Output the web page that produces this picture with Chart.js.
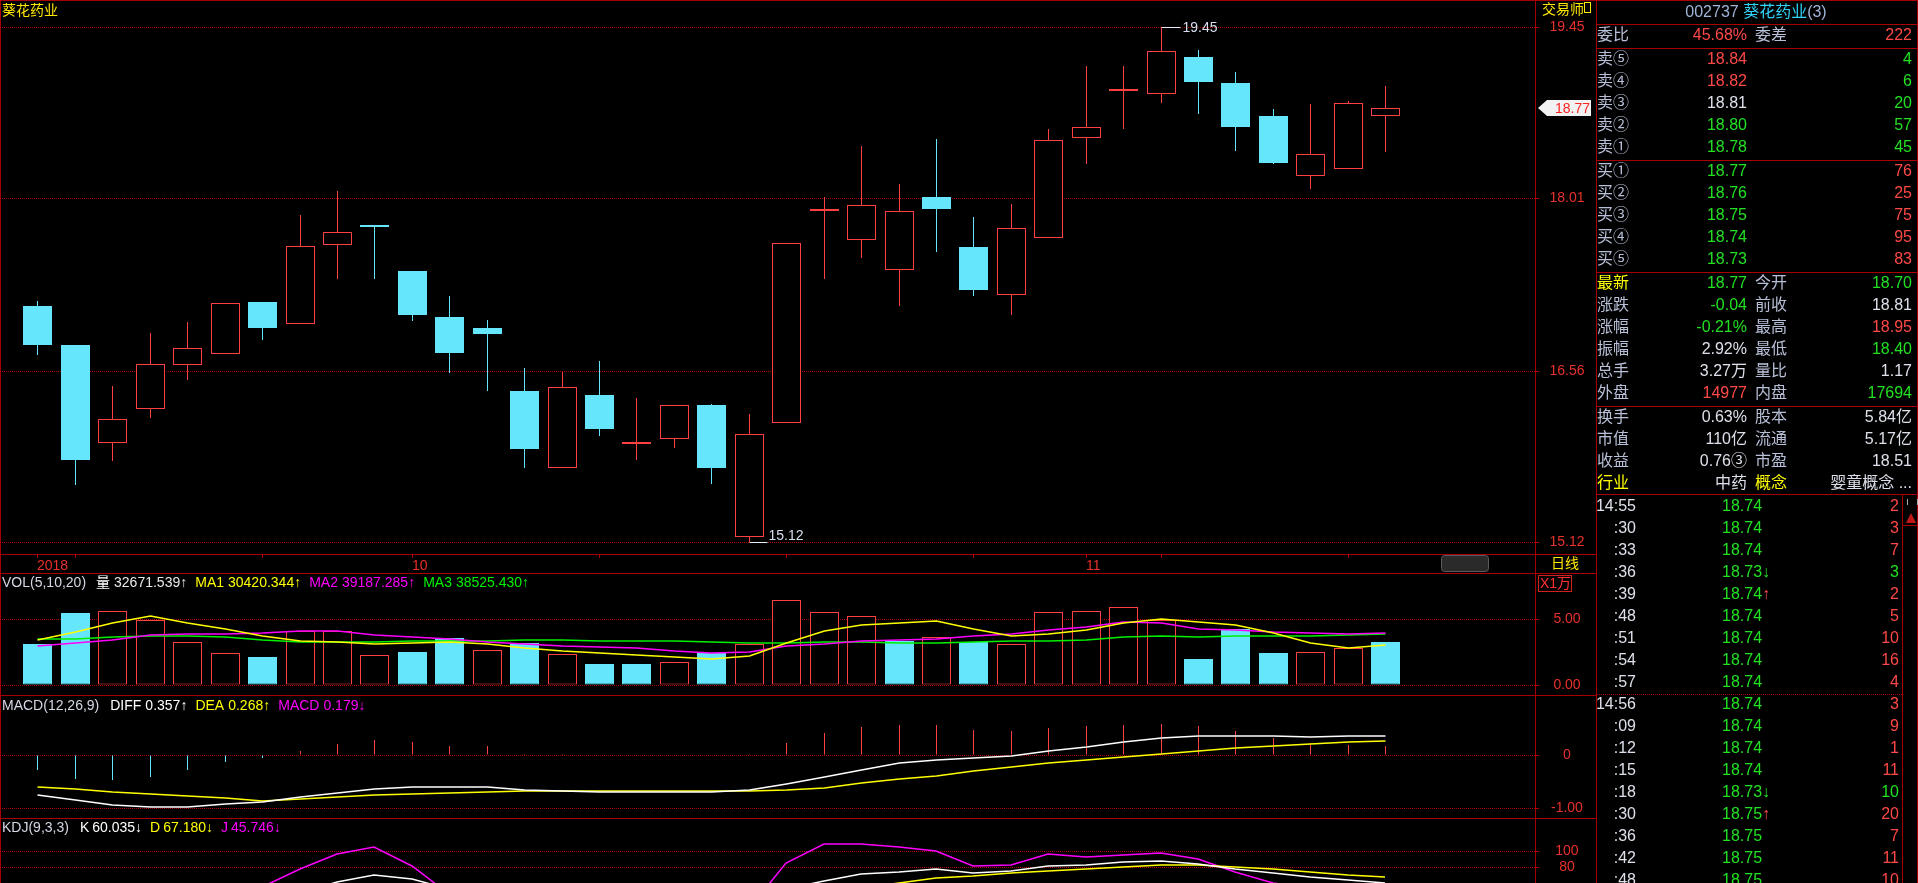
<!DOCTYPE html>
<html lang="zh-CN">
<head>
<meta charset="utf-8">
<title>葵花药业 002737 日线</title>
<script src="https://cdn.jsdelivr.net/npm/chart.js@4.4.1/dist/chart.umd.min.js"></script>
<style>
  html, body { margin: 0; padding: 0; background: #000; }
  body { width: 1918px; height: 883px; position: relative; overflow: hidden;
         font-family: "Liberation Sans", Arial, "Noto Sans CJK SC", sans-serif; }
  canvas { position: absolute; left: 0; }
  #info { position: absolute; left: 1596px; top: 0; width: 322px; height: 883px; box-sizing: border-box;
          border-left: 1px solid #a80000; border-right: 1px solid #a80000; font-size: 16px; }
  #info span.c { position: absolute; height: 22px; line-height: 22px; white-space: nowrap; }
  #info .hl { position: absolute; left: 0; right: 0; height: 1px; background: #a80000; }
  #info .dl { position: absolute; left: 0; width: 305px; height: 0; border-top: 1px dotted #a80000; }
</style>
</head>
<body>
<canvas id="price" width="1596" height="573" style="top:0"></canvas>
<canvas id="vol" width="1596" height="122" style="top:573px"></canvas>
<canvas id="macd" width="1596" height="123" style="top:695px"></canvas>
<canvas id="kdj" width="1596" height="65" style="top:818px"></canvas>
<div id="info"></div>
<script>
// ---- daily candles (37 sessions) ----
const opens  = [17.10,16.78,15.95,16.24,16.61,16.70,17.14,16.95,17.62,17.78,17.40,17.01,16.92,16.39,15.74,16.36,15.94,15.99,16.27,15.16,16.12,17.90,17.66,17.41,18.02,17.60,17.20,17.68,18.52,18.91,18.89,19.20,18.98,18.70,18.20,18.26,18.70];
const highs  = [17.15,16.78,16.43,16.88,16.97,17.13,17.14,17.87,18.07,17.78,17.40,17.19,16.99,16.58,16.55,16.64,16.33,16.27,16.28,16.20,17.63,18.02,18.45,18.13,18.51,17.85,17.96,18.59,19.12,19.12,19.45,19.26,19.07,18.76,18.80,18.83,18.95];
const lows   = [16.69,15.60,15.80,16.16,16.48,16.70,16.82,16.95,17.33,17.33,16.98,16.54,16.39,15.74,15.74,16.01,15.81,15.91,15.61,15.12,16.12,17.33,17.51,17.10,17.56,17.19,17.03,17.68,18.30,18.59,18.81,18.72,18.41,18.30,18.09,18.26,18.40];
const closes = [16.78,15.81,16.15,16.62,16.75,17.13,16.92,17.61,17.73,17.77,17.03,16.71,16.87,15.90,16.42,16.07,15.95,16.27,15.74,16.03,17.63,17.91,17.95,17.90,17.92,17.24,17.76,18.50,18.61,18.93,19.25,18.99,18.61,18.31,18.38,18.81,18.77];
const priorClose = 17.05; // close of the session before the first one shown

// ---- volume (x1万) and its averages ----
const volumes = [3.12,5.48,5.61,4.92,3.25,2.41,2.13,4.09,4.11,2.26,2.51,3.55,2.64,3.22,2.33,1.60,1.60,1.75,2.41,3.12,6.45,5.53,5.23,3.30,3.63,3.25,3.10,5.53,5.61,5.91,4.95,1.98,4.26,2.44,2.49,2.79,3.27];
const volMA5  = [3.43,3.98,4.70,5.20,4.70,4.24,3.68,3.30,3.25,3.10,3.17,3.25,3.10,2.84,2.59,2.46,2.28,2.11,1.95,2.16,3.17,4.06,4.57,4.72,4.82,4.24,3.73,3.86,4.19,4.67,4.97,4.75,4.54,3.93,3.22,2.84,3.04];
const volMA10 = [2.92,3.17,3.43,3.76,3.86,3.86,3.93,4.06,4.06,3.76,3.60,3.50,3.25,3.10,2.99,2.87,2.79,2.61,2.46,2.51,2.92,3.12,3.30,3.38,3.50,3.68,3.86,4.19,4.39,4.75,4.70,4.26,4.14,4.01,3.93,3.86,3.92];
const volMA20 = [3.50,3.50,3.63,3.71,3.68,3.60,3.43,3.25,3.25,3.25,3.30,3.35,3.35,3.43,3.43,3.35,3.30,3.30,3.25,3.17,3.22,3.25,3.25,3.17,3.17,3.25,3.30,3.35,3.43,3.60,3.71,3.63,3.71,3.71,3.71,3.81,3.85];
const volHeader = [32671.539, 30420.344, 39187.285, 38525.430];

// ---- MACD(12,26,9) ----
const diff = [-0.76,-0.84,-0.94,-0.98,-0.975,-0.925,-0.88,-0.79,-0.72,-0.64,-0.61,-0.61,-0.61,-0.66,-0.675,-0.69,-0.69,-0.69,-0.69,-0.66,-0.54,-0.42,-0.28,-0.15,-0.09,-0.06,-0.01,0.07,0.16,0.24,0.33,0.36,0.36,0.35,0.34,0.35,0.357];
const dea  = [-0.61,-0.64,-0.69,-0.74,-0.78,-0.81,-0.86,-0.83,-0.79,-0.76,-0.73,-0.72,-0.69,-0.675,-0.675,-0.675,-0.675,-0.675,-0.675,-0.675,-0.66,-0.63,-0.53,-0.46,-0.39,-0.31,-0.23,-0.16,-0.10,-0.04,0.01,0.08,0.13,0.175,0.21,0.24,0.268];
const macdBar = [-0.29,-0.46,-0.48,-0.41,-0.29,-0.14,-0.06,0.075,0.21,0.28,0.24,0.17,0.17,0.02,0.02,0.005,0.003,0.003,0.003,0.01,0.225,0.41,0.525,0.56,0.56,0.47,0.45,0.51,0.54,0.56,0.59,0.54,0.45,0.32,0.23,0.19,0.179];

// ---- KDJ(9,3,3) ----
const kLine = [35,30,28,30,32,36,40,47,61,70.6,65,53,48,35,30,30,28,30,27,38,53,63,71.5,74,77,72,75,81,82.5,86,87,84,78,72,67,63.4,60.035];
const dLine = [38,35,32,31,32,34,36,38,44,53,57,56,52,46,40,36,33,31,30,33,38,46,54,60,66,68.5,72,75,78,80,82.5,82,80,78,73.6,70.6,67.18];
const jLine = [25,18,18,26,32,42,55,77,96,105,81,46,34,10,6,14,14,24,19,27,84.7,109,109,104.7,99.6,81,82,96.6,93,95,97.4,90,74,60,54,49,45.746];

// ---- axis ticks ----
const priceTicks = [19.45, 18.01, 16.56, 15.12];
const volTicks = [5, 0];
const macdTicks = [0, -1];
const kdjTicks = [100, 80];
const dateTickIdx  = [0, 1, 6, 10, 15, 20, 25, 28, 30, 35];
const dateTickText = ['2018', '', '', '10', '', '', '', '11', '', ''];

// ---- quote panel ----
const prevClose = 18.81;
const sellPrices = [18.84, 18.82, 18.81, 18.80, 18.78];
const sellVols = [4, 6, 20, 57, 45];
const buyPrices = [18.77, 18.76, 18.75, 18.74, 18.73];
const buyVols = [76, 25, 75, 95, 83];
const quoteLabels = [['最新','今开'],['涨跌','前收'],['涨幅','最高'],['振幅','最低'],['总手','量比'],['外盘','内盘']];
const quoteValues = [['18.77','18.70'],['-0.04','18.81'],['-0.21%','18.95'],['2.92%','18.40'],['3.27万','1.17'],['14977','17694']];
const quoteTone   = [['g','g'],['g','w'],['g','r'],['w','g'],['w','w'],['r','g']];
const baseLabels = [['换手','股本'],['市值','流通'],['收益','市盈'],['行业','概念']];
const baseValues = [['0.63%','5.84亿'],['110亿','5.17亿'],['0.76③','18.51'],['中药','婴童概念 ...']];
const tickTimes  = ['14:55',':30',':33',':36',':39',':48',':51',':54',':57','14:56',':09',':12',':15',':18',':30',':36',':42',':48'];
const tickPrices = [18.74,18.74,18.74,18.73,18.74,18.74,18.74,18.74,18.74,18.74,18.74,18.74,18.74,18.73,18.75,18.75,18.75,18.75];
const tickVols   = [2,3,7,3,2,5,10,16,4,3,9,1,11,10,20,7,11,10];
const tickSides  = ['B','B','B','S','B','B','B','B','B','B','B','B','B','S','B','B','B','B'];

const FONT = '"Liberation Sans", Arial, "Noto Sans CJK SC", sans-serif';
const RED = '#ff4040', CYAN = '#66e6fc', FRAME = '#a80000', AXIS_TXT = '#e8302c';
const YEL = '#ffff00', MAG = '#ff00ff', GRN = '#00f000', WHT = '#ffffff', HDR = '#d4d8e4';
const X_MIN = -1, X_MAX = 40, AXIS_W = 61;

Chart.defaults.font.family = FONT;
Chart.defaults.font.size = 14;

const pts = arr => arr.map((v, i) => ({ x: i, y: v }));
const upCandle = i => closes[i] >= opens[i];
const volUp = i => closes[i] >= (i > 0 ? closes[i - 1] : priorClose);

function hiddenX() {
  return { type: 'linear', min: X_MIN, max: X_MAX, offset: false, alignToPixels: true,
           grid: { offset: false }, display: false };
}

function yAxis(min, max, ticks, fmt, pad) {
  return {
    type: 'linear', position: 'right', min: min, max: max, alignToPixels: true,
    afterFit: s => { s.width = AXIS_W; s.paddingTop = 0; s.paddingBottom = 0; },
    afterBuildTicks: s => { s.ticks = ticks.map(v => ({ value: v })); },
    grid: { color: FRAME, lineWidth: 1, tickLength: 4, tickColor: FRAME },
    border: { display: false, dash: [1, 1] },
    ticks: { color: AXIS_TXT, font: { size: 14 }, crossAlign: 'center', padding: pad, callback: fmt }
  };
}

function baseOptions(scales) {
  return {
    responsive: false, animation: false, devicePixelRatio: 1, events: [],
    layout: { padding: 0 },
    plugins: { legend: { display: false }, tooltip: { enabled: false } },
    scales: scales
  };
}

// bars sit on whole pixels: shift half a pixel so 1px wicks and odd-width bodies stay crisp
const crisp = {
  id: 'crisp',
  beforeDatasetsDraw(chart) { chart.ctx.save(); chart.ctx.translate(0.5, 0); },
  afterDatasetsDraw(chart) { chart.ctx.restore(); }
};

// edges shared by every panel
const framePlugin = {
  id: 'frame',
  afterDraw(chart) {
    const { ctx, width, height, chartArea } = chart;
    ctx.save();
    ctx.strokeStyle = FRAME; ctx.lineWidth = 1;
    ctx.beginPath();
    ctx.moveTo(0, 0.5); ctx.lineTo(width, 0.5);
    ctx.moveTo(0.5, 0); ctx.lineTo(0.5, height);
    ctx.moveTo(chartArea.right + 0.5, 0); ctx.lineTo(chartArea.right + 0.5, height);
    ctx.stroke();
    ctx.restore();
  }
};

function headerPlugin(y, segments) {
  return {
    id: 'header',
    afterDraw(chart) {
      const ctx = chart.ctx;
      ctx.save();
      ctx.font = '14px ' + FONT;
      ctx.textBaseline = 'middle';
      ctx.textAlign = 'left';
      let x = 2;
      segments.forEach(s => {
        x += s.gap || 0;
        ctx.fillStyle = s.color;
        ctx.fillText(s.text, x, y);
        x += ctx.measureText(s.text).width;
      });
      ctx.restore();
    }
  };
}

const priceExtras = {
  id: 'priceExtras',
  afterDraw(chart) {
    const { ctx, chartArea: a, scales } = chart;
    const xs = scales.x, ys = scales.y;
    ctx.save();
    ctx.strokeStyle = FRAME; ctx.lineWidth = 1;
    ctx.beginPath();
    ctx.moveTo(0, a.bottom + 0.5); ctx.lineTo(chart.width, a.bottom + 0.5);
    ctx.moveTo(a.right + 0.5, a.bottom); ctx.lineTo(a.right + 0.5, chart.height);
    ctx.stroke();

    ctx.font = '14px ' + FONT;
    ctx.textBaseline = 'middle';
    ctx.textAlign = 'left';
    ctx.fillStyle = '#ffe800';
    ctx.fillText('葵花药业', 2, 11);
    ctx.fillText('交易师', a.right + 7, 10);
    ctx.strokeStyle = '#ffe800';
    ctx.strokeRect(a.right + 49.5, 2.5, 6, 10);
    ctx.fillText('日线', a.right + 16, a.bottom + 10);

    // scroll handle in the date strip
    ctx.fillStyle = '#2a2a2a'; ctx.strokeStyle = '#5a5a5a';
    ctx.beginPath();
    ctx.roundRect(a.right - 93.5, a.bottom + 1.5, 47, 16, 3);
    ctx.fill(); ctx.stroke();

    // highest / lowest marks
    const hi = Math.max(...highs), lo = Math.min(...lows);
    const ih = highs.indexOf(hi), il = lows.indexOf(lo);
    ctx.strokeStyle = '#e8ecf8'; ctx.fillStyle = '#d8def0';
    let px = xs.getPixelForValue(ih) + 0.5, py = Math.round(ys.getPixelForValue(hi)) + 0.5;
    ctx.beginPath(); ctx.moveTo(px, py); ctx.lineTo(px + 19, py); ctx.stroke();
    ctx.fillText(hi.toFixed(2), px + 21, py + 1);
    px = xs.getPixelForValue(il) + 0.5; py = Math.round(ys.getPixelForValue(lo)) + 0.5;
    ctx.beginPath(); ctx.moveTo(px, py); ctx.lineTo(px + 18, py); ctx.stroke();
    ctx.textBaseline = 'alphabetic';
    ctx.fillText(lo.toFixed(2), px + 19, py - 3);

    // latest price tag on the axis
    const last = closes[closes.length - 1];
    const ty = Math.round(ys.getPixelForValue(last));
    const x0 = a.right + 3, x1 = a.right + 56;
    ctx.fillStyle = '#f2f2f2';
    ctx.beginPath();
    ctx.moveTo(x0, ty); ctx.lineTo(x0 + 9, ty - 8); ctx.lineTo(x1, ty - 8);
    ctx.lineTo(x1, ty + 8); ctx.lineTo(x0 + 9, ty + 8); ctx.closePath(); ctx.fill();
    ctx.fillStyle = '#ff2020'; ctx.textAlign = 'right'; ctx.textBaseline = 'middle';
    ctx.fillText(last.toFixed(2), x1 - 1, ty + 1);
    ctx.restore();
  }
};

const volExtras = {
  id: 'volExtras',
  afterDraw(chart) {
    const { ctx, chartArea: a } = chart;
    ctx.save();
    ctx.strokeStyle = '#d02020'; ctx.lineWidth = 1;
    ctx.strokeRect(a.right + 3.5, 2.5, 33, 16);
    ctx.fillStyle = '#ff3030'; ctx.font = '14px ' + FONT;
    ctx.textBaseline = 'middle'; ctx.textAlign = 'left';
    ctx.fillText('X1万', a.right + 5, 11);
    ctx.restore();
  }
};

// ---- price panel ----
new Chart(document.getElementById('price'), {
  type: 'bar',
  data: {
    datasets: [
      { data: opens.map((o, i) => ({ x: i, y: [o, closes[i]] })),
        grouped: false, barThickness: 29, minBarLength: 2, borderWidth: 1, borderSkipped: false, inflateAmount: 0,
        backgroundColor: c => upCandle(c.dataIndex) ? '#000' : CYAN,
        borderColor: c => upCandle(c.dataIndex) ? RED : CYAN },
      { data: lows.map((l, i) => ({ x: i, y: [l, highs[i]] })),
        grouped: false, barThickness: 1, borderWidth: 0, inflateAmount: 0,
        backgroundColor: c => upCandle(c.dataIndex) ? RED : CYAN }
    ]
  },
  options: baseOptions({
    x: {
      type: 'linear', min: X_MIN, max: X_MAX, position: 'bottom', offset: false, alignToPixels: true,
      afterBuildTicks: s => { s.ticks = dateTickIdx.map(v => ({ value: v })); },
      afterFit: s => { s.height = 19; s.paddingLeft = 0; s.paddingRight = 0; },
      grid: { offset: false, drawOnChartArea: false, drawTicks: true, tickLength: 4, color: FRAME, tickColor: FRAME },
      border: { display: false },
      ticks: { autoSkip: false, maxRotation: 0, align: 'start', padding: 0, color: AXIS_TXT,
               font: { size: 14 }, callback: (v, i) => dateTickText[i] || '' }
    },
    y: yAxis(15.019, 19.677, priceTicks, v => v.toFixed(2), 10.5)
  }),
  plugins: [crisp, framePlugin, priceExtras]
});

// ---- volume panel ----
const arrow = up => up ? '↑' : '↓';
new Chart(document.getElementById('vol'), {
  type: 'bar',
  data: {
    datasets: [
      { type: 'line', data: pts(volMA5), borderColor: YEL, borderWidth: 1.5, pointRadius: 0 },
      { type: 'line', data: pts(volMA10), borderColor: MAG, borderWidth: 1.5, pointRadius: 0 },
      { type: 'line', data: pts(volMA20), borderColor: GRN, borderWidth: 1.5, pointRadius: 0 },
      { data: pts(volumes), grouped: false, barThickness: 29, borderWidth: 1, borderSkipped: false, inflateAmount: 0,
        backgroundColor: c => volUp(c.dataIndex) ? '#000' : CYAN,
        borderColor: c => volUp(c.dataIndex) ? RED : CYAN }
    ]
  },
  options: baseOptions({
    x: hiddenX(),
    y: yAxis(-0.757, 8.485, volTicks, v => v.toFixed(2), 14.4)
  }),
  plugins: [crisp, framePlugin, volExtras, headerPlugin(10, [
    { text: 'VOL(5,10,20)', color: HDR },
    { text: '量', color: WHT, gap: 10 },
    { text: volHeader[0].toFixed(3) + '↑', color: '#e8e8e8', gap: 4 },
    { text: 'MA1', color: YEL, gap: 8 },
    { text: volHeader[1].toFixed(3) + '↑', color: YEL, gap: 4 },
    { text: 'MA2', color: MAG, gap: 8 },
    { text: volHeader[2].toFixed(3) + '↑', color: MAG, gap: 4 },
    { text: 'MA3', color: GRN, gap: 8 },
    { text: volHeader[3].toFixed(3) + '↑', color: GRN, gap: 4 }
  ])]
});

// ---- MACD panel ----
const n = closes.length - 1;
new Chart(document.getElementById('macd'), {
  type: 'bar',
  data: {
    datasets: [
      { type: 'line', data: pts(diff), borderColor: WHT, borderWidth: 1.5, pointRadius: 0 },
      { type: 'line', data: pts(dea), borderColor: YEL, borderWidth: 1.5, pointRadius: 0 },
      { data: pts(macdBar), grouped: false, barThickness: 1, borderWidth: 0, inflateAmount: 0,
        backgroundColor: c => macdBar[c.dataIndex] >= 0 ? RED : CYAN }
    ]
  },
  options: baseOptions({
    x: hiddenX(),
    y: yAxis(-1.1887, 1.1321, macdTicks, v => v === 0 ? '0' : v.toFixed(2), 12)
  }),
  plugins: [crisp, framePlugin, headerPlugin(11, [
    { text: 'MACD(12,26,9)', color: HDR },
    { text: 'DIFF', color: WHT, gap: 11 },
    { text: diff[n].toFixed(3) + arrow(diff[n] >= diff[n - 1]), color: WHT, gap: 4 },
    { text: 'DEA', color: YEL, gap: 8 },
    { text: dea[n].toFixed(3) + arrow(dea[n] >= dea[n - 1]), color: YEL, gap: 4 },
    { text: 'MACD', color: MAG, gap: 8 },
    { text: macdBar[n].toFixed(3) + arrow(macdBar[n] >= macdBar[n - 1]), color: MAG, gap: 4 }
  ])]
});

// ---- KDJ panel ----
new Chart(document.getElementById('kdj'), {
  type: 'line',
  data: {
    datasets: [
      { data: pts(kLine), borderColor: WHT, borderWidth: 1.5, pointRadius: 0 },
      { data: pts(dLine), borderColor: YEL, borderWidth: 1.5, pointRadius: 0 },
      { data: pts(jLine), borderColor: MAG, borderWidth: 1.5, pointRadius: 0 }
    ]
  },
  options: baseOptions({
    x: hiddenX(),
    y: yAxis(60, 141.25, kdjTicks, v => String(v), 16.3)
  }),
  plugins: [framePlugin, headerPlugin(10, [
    { text: 'KDJ(9,3,3)', color: HDR },
    { text: 'K', color: WHT, gap: 11 },
    { text: kLine[n].toFixed(3) + arrow(kLine[n] >= kLine[n - 1]), color: WHT, gap: 3 },
    { text: 'D', color: YEL, gap: 8 },
    { text: dLine[n].toFixed(3) + arrow(dLine[n] >= dLine[n - 1]), color: YEL, gap: 3 },
    { text: 'J', color: MAG, gap: 8 },
    { text: jLine[n].toFixed(3) + arrow(jLine[n] >= jLine[n - 1]), color: MAG, gap: 3 }
  ])]
});

// ---- quote panel (plain html text) ----
const LBL = '#b8c0d8', TXT_W = '#dde0ea', TXT_R = '#ff4848', TXT_G = '#22e022';
const tone = { r: TXT_R, g: TXT_G, w: TXT_W };
const info = document.getElementById('info');
const L0 = 1597;
function put(text, x, yc, color, align) {
  const s = document.createElement('span');
  s.className = 'c';
  s.textContent = text;
  s.style.color = color;
  s.style.top = (yc - 11) + 'px';
  if (align === 'right') {
    s.style.left = (x - L0 - 200) + 'px'; s.style.width = '200px'; s.style.textAlign = 'right';
  } else {
    s.style.left = (x - L0) + 'px';
  }
  info.appendChild(s);
  return s;
}
function hline(y, cls) {
  const d = document.createElement('div');
  d.className = cls || 'hl';
  d.style.top = y + 'px';
  info.appendChild(d);
}
const priceTone = p => p > prevClose ? TXT_R : p < prevClose ? TXT_G : TXT_W;

hline(0); hline(24); hline(48); hline(160); hline(272); hline(406); hline(494); hline(694, 'dl');

const head = put('', 1556, 12, '#a0b4d8', 'left');
head.style.width = '400px'; head.style.textAlign = 'center';
head.innerHTML = '002737 <span style="color:#30d4fa">葵花药业</span>(3)';

const sumBuy = buyVols.reduce((a, b) => a + b, 0), sumSell = sellVols.reduce((a, b) => a + b, 0);
put('委比', 1597, 35, LBL);
put(((sumBuy - sumSell) / (sumBuy + sumSell) * 100).toFixed(2) + '%', 1747, 35, TXT_R, 'right');
put('委差', 1755, 35, LBL);
put(String(sumBuy - sumSell), 1912, 35, TXT_R, 'right');

['卖⑤','卖④','卖③','卖②','卖①'].forEach((l, k) => {
  const y = 59 + 22 * k;
  put(l, 1597, y, LBL);
  put(sellPrices[k].toFixed(2), 1747, y, priceTone(sellPrices[k]), 'right');
  put(String(sellVols[k]), 1912, y, TXT_G, 'right');
});
['买①','买②','买③','买④','买⑤'].forEach((l, k) => {
  const y = 171 + 22 * k;
  put(l, 1597, y, LBL);
  put(buyPrices[k].toFixed(2), 1747, y, priceTone(buyPrices[k]), 'right');
  put(String(buyVols[k]), 1912, y, TXT_R, 'right');
});
quoteLabels.forEach((pair, k) => {
  const y = 283 + 22 * k;
  put(pair[0], 1597, y, k === 0 ? YEL : LBL);
  put(quoteValues[k][0], 1747, y, tone[quoteTone[k][0]], 'right');
  put(pair[1], 1755, y, LBL);
  put(quoteValues[k][1], 1912, y, tone[quoteTone[k][1]], 'right');
});
baseLabels.forEach((pair, k) => {
  const y = 417 + 22 * k;
  const last = k === baseLabels.length - 1;
  put(pair[0], 1597, y, last ? YEL : LBL);
  put(baseValues[k][0], 1747, y, TXT_W, 'right');
  put(pair[1], 1755, y, last ? YEL : LBL);
  put(baseValues[k][1], 1912, y, TXT_W, 'right');
});
tickTimes.forEach((t, k) => {
  const y = 506 + 22 * k;
  put(t, 1636, y, TXT_W, 'right');
  const s = put('', 1722, y, TXT_G);
  const p = tickPrices[k], prev = k > 0 ? tickPrices[k - 1] : p;
  let html = p.toFixed(2);
  if (p < prev) html += '<span style="color:' + TXT_G + '">↓</span>';
  if (p > prev) html += '<span style="color:' + TXT_R + '">↑</span>';
  s.innerHTML = html;
  put(String(tickVols[k]), 1899, y, tickSides[k] === 'B' ? TXT_R : TXT_G, 'right');
});

// small scroll column at the right of the tick list
const col = document.createElement('div');
col.style.cssText = 'position:absolute;left:305px;top:494px;width:15px;height:389px;border-left:1px solid #a80000;';
col.innerHTML = '<div style="position:absolute;left:4px;top:5px;width:9px;height:6px;border-left:1px solid #aaa;border-right:1px solid #aaa;"></div>' +
  '<div style="position:absolute;left:3px;top:19px;width:0;height:0;border-left:5px solid transparent;border-right:5px solid transparent;border-bottom:10px solid #c01818;"></div>' +
  '<div style="position:absolute;left:0;top:31px;width:15px;height:1px;background:#a80000;"></div>';
info.appendChild(col);
</script>
</body>
</html>
